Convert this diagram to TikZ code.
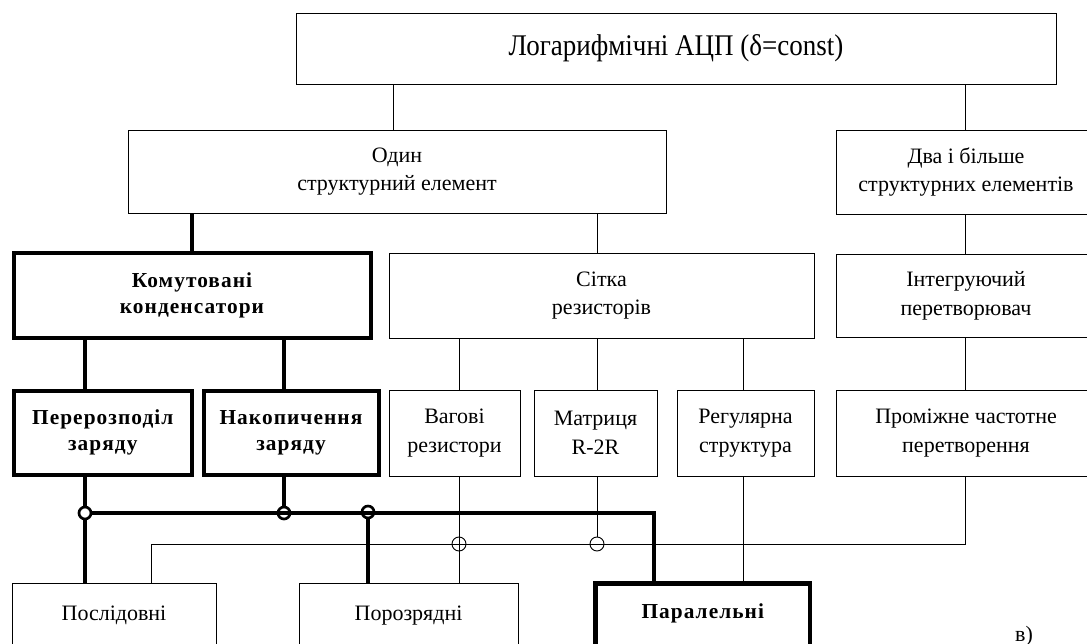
\documentclass[tikz,border=0pt]{standalone}
\usepackage{fontspec}
\setmainfont{Liberation Serif}
\usepackage{tikz}
\usetikzlibrary{calc}

\begin{document}
\begin{tikzpicture}[x=0.75pt,y=-0.75pt,
  extent/.style 2 args={minimum width=#1*0.75pt,minimum height=#2*0.75pt},
  box/.style={draw,line width=0.7pt,inner sep=0pt,align=center,font=\fontsize{16.5}{21.5}\selectfont},
  boldbox/.style={box,line width=3pt,font=\fontsize{16}{19.5}\selectfont\bfseries\addfontfeature{LetterSpace=5}},
  link/.style={line width=0.7pt},
  heavy/.style={line width=3pt},
  junc/.style={circle,draw,line width=2pt,fill=white,inner sep=0pt,minimum size=9pt},
  cross/.style={circle,draw,line width=0.7pt,inner sep=0pt,minimum size=10.5pt}]
\useasboundingbox (0,0) rectangle (1087,643);

\node[box,font=\fontsize{22.5}{26}\selectfont\addfontfeature{FakeStretch=0.9},extent={760}{71}] (top) at (676,48.5) {Логарифмічні АЦП (δ=const)};
\node[box,extent={538}{83}] (one) at (397,171.5) {Один\\структурний елемент};
\node[box,extent={260}{84}] (two) at (966,172) {Два і більше\\структурних елементів};

\node[boldbox,extent={357}{85}] (kom) at (192,295) {Комутовані\\конденсатори};
\node[box,extent={425}{85}] (sit) at (601.5,295.5) {Сітка\\резисторів};
\node[box,extent={260}{83}] (int) at (966,295.5) {Інтегруючий\\перетворювач};

\node[boldbox,extent={178.5}{83.5}] (per) at (102.75,432.75) {Перерозподіл\\заряду};
\node[boldbox,extent={175}{83.5}] (nak) at (291,432.75) {Накопичення\\заряду};
\node[box,extent={131}{86}] (vag) at (454.5,433) {Вагові\\резистори};
\node[box,extent={123}{86}] (mat) at (595.5,433) {Матриця\\R-2R};
\node[box,extent={137}{86}] (reg) at (745.5,433) {Регулярна\\структура};
\node[box,extent={260}{86}] (prom) at (966,433) {Проміжне частотне\\перетворення};

\node[box,extent={204}{65}] (pos) at (114,615.5) {Послідовні};
\node[box,extent={219}{65}] (por) at (408.5,615.5) {Порозрядні};
\node[boldbox,line width=3.5pt,text depth=16pt,extent={214.5}{76.5}] (par) at (702.75,621.75) {Паралельні};

\node[font=\fontsize{16.5}{20}\selectfont,anchor=base] (tag) at (1024,641) {в)};

\draw[link] (393,0 |- top.south) -- (393,0 |- one.north);
\draw[link] (965,0 |- top.south) -- (965,0 |- two.north);
\draw[heavy] (192,0 |- one.south) -- (192,0 |- kom.north);
\draw[link] (597,0 |- one.south) -- (597,0 |- sit.north);
\draw[link] (965,0 |- two.south) -- (965,0 |- int.north);
\draw[heavy] (85,0 |- kom.south) -- (85,0 |- per.north);
\draw[heavy] (284,0 |- kom.south) -- (284,0 |- nak.north);
\foreach \x/\n in {459/vag,597/mat,743/reg}
  \draw[link] (\x,0 |- sit.south) -- (\x,0 |- \n.north);
\draw[link] (965,0 |- int.south) -- (965,0 |- prom.north);

\node[junc] (j1) at (85,513) {};
\node[junc] (j2) at (284,513) {};
\node[junc] (j3) at (368,512) {};
\node[cross] (c1) at (459,544) {};
\node[cross] (c2) at (597,544) {};
\coordinate (bend) at (654,513);
\coordinate (tr) at (965,544);
\coordinate (tl) at (151,544);

\draw[heavy] (j1 |- per.south) -- (j1.north);
\draw[heavy] (j1.south) -- (j1 |- pos.north);
\draw[heavy] (j2 |- nak.south) -- (j2.north);
\draw[heavy] (j3.south) -- (j3 |- por.north);
\draw[heavy,line width=2.6pt] (j1.east) -- (bend) -- (bend |- par.north);
\draw[link] (tr |- prom.south) -- (tr) -- (tl) -- (tl |- pos.north);
\draw[link] (c1 |- vag.south) -- (c1 |- por.north);
\draw[link] (c2 |- mat.south) -- (c2.north);
\draw[link] (743,0 |- reg.south) -- (743,0 |- par.north);
\end{tikzpicture}
\end{document}
